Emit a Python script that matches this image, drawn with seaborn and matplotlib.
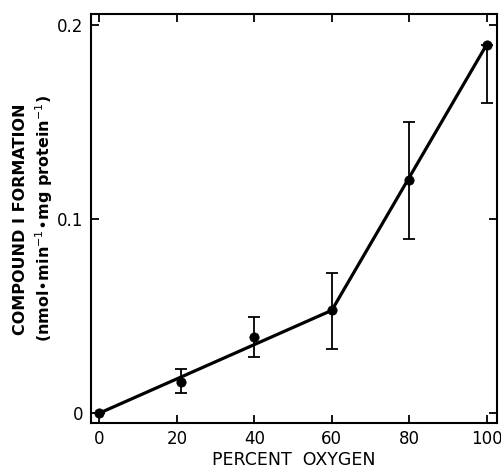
import matplotlib
matplotlib.use("Agg")
import matplotlib.pyplot as plt
import seaborn as sns
import pandas as pd
import numpy as np

# measured points
oxygen = [0, 21, 40, 60, 80, 100]
formation = [0.0, 0.016, 0.039, 0.053, 0.120, 0.190]
err_low = [0.0, 0.0105, 0.029, 0.033, 0.090, 0.160]
err_high = [0.0, 0.0225, 0.0495, 0.072, 0.150, 0.190]

# fitted line segments
fit_x = [0, 60, 100]
fit_y = [0.0, 0.053, 0.190]

x_ticks = [0, 20, 40, 60, 80, 100]
y_ticks = [0, 0.1, 0.2]
y_ticklabels = ["0", "0.1", "0.2"]

sns.set_style("ticks")
plt.rcParams['font.family'] = ['DejaVu Sans']
plt.rcParams['text.color'] = 'black'
plt.rcParams['axes.labelcolor'] = 'black'

fig = plt.figure(figsize=(5.01, 4.72), dpi=100)
ax = fig.add_axes([0.181, 0.103, 0.8116, 0.867])

df_pts = pd.DataFrame({"x": oxygen, "y": formation})
df_fit = pd.DataFrame({"x": fit_x, "y": fit_y})

sns.lineplot(data=df_fit, x="x", y="y", ax=ax, color="black", lw=2.3, sort=False)
yerr = np.array([np.array(formation) - np.array(err_low),
                 np.array(err_high) - np.array(formation)])
ax.errorbar(oxygen, formation, yerr=yerr, fmt="none", ecolor="black",
            elinewidth=1.3, capsize=4.5, capthick=1.3)
sns.scatterplot(data=df_pts, x="x", y="y", ax=ax, color="black", s=45,
                edgecolor="black", zorder=5)

ax.set_xlim(-2.27, 102.74)
ax.set_ylim(-0.0053, 0.2057)
ax.set_xticks(x_ticks)
ax.set_xticklabels([str(t) for t in x_ticks])
ax.set_yticks(y_ticks)
ax.set_yticklabels(y_ticklabels)

for s in ax.spines.values():
    s.set_linewidth(1.5)
    s.set_color("black")
    s.set_visible(True)

ax.tick_params(direction="in", length=6, width=1.3, top=True, right=True,
               labelsize=12, pad=5, colors="black")

ax.set_xlabel("PERCENT  OXYGEN", fontsize=12.5, labelpad=2, color="black")
ax.set_ylabel("COMPOUND I FORMATION\n(nmol$\\bullet$min$^{-1}$$\\bullet$mg protein$^{-1}$)",
              fontsize=11.5, labelpad=2, linespacing=1.3, fontweight="semibold",
              color="black")

fig.savefig("out.png", dpi=100)
